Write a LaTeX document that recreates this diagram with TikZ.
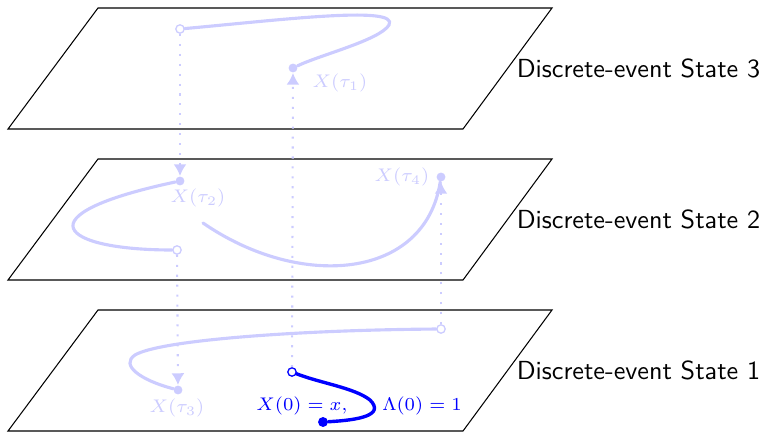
\documentclass[tikz,border=0pt]{standalone}
\usepackage{amsmath,amssymb}
\usepackage{tikz}
\usetikzlibrary{arrows.meta}

\begin{document}
\begin{tikzpicture}[every node/.style={font=\scriptsize}, x=0.01344cm, y=0.01344cm,
	faint/.style={blue!20}, flow/.style={very thick, line cap=round},
	jump/.style={blue!20, thick, dash pattern=on 0.8pt off 3pt, -{Latex[length=4.5pt,width=5pt]}},
	opendot/.style={circle, draw=#1, line width=0.5pt, fill=white, inner sep=0pt, minimum size=3.2pt},
	fulldot/.style={circle, fill=#1, inner sep=0pt, minimum size=3.4pt}]
	\useasboundingbox (0,0) rectangle (768,-432);
	\foreach \k/\y in {3/8,2/159,1/310} {
		\draw (98,-\y) -- (552,-\y) -- node[right, font=\normalsize\sffamily] (s\k) {Discrete-event State \k} (463,-\y-121) -- (8,-\y-121) -- cycle;
	}
	\node[opendot=blue!20] (o3) at (180,-29) {};
	\node[fulldot=blue!20] (t1) at (293,-68) {};
	\node[fulldot=blue!20] (t2) at (180,-181) {};
	\node[opendot=blue!20] (o2) at (177,-250) {};
	\node[fulldot=blue!20] (t4) at (441,-177) {};
	\coordinate (e2) at (203,-223);
	\node[fulldot=blue!20] (t3) at (178,-390) {};
	\node[opendot=blue!20] (o1) at (441,-329) {};
	\node[opendot=blue] (o0) at (292,-372) {};
	\node[fulldot=blue, minimum size=3.8pt] (x0) at (323,-422) {};
	\draw[flow, blue, line width=1.3pt] (x0) .. controls (360,-420) and (385,-415) .. (370,-400) .. controls (355,-388) and (320,-383) .. (o0);
	\draw[jump] (o0) -- (t1);
	\draw[flow, faint] (t1) .. controls (320,-55) and (380,-40) .. (389,-25) .. controls (400,-5) and (280,-20) .. (o3);
	\draw[jump] (o3) -- (t2);
	\draw[flow, faint] (t2) .. controls (20,-215) and (60,-250) .. (o2);
	\draw[jump] (o2) -- (t3);
	\draw[flow, faint] (t3) .. controls (140,-380) and (120,-365) .. (135,-355) .. controls (160,-340) and (300,-330) .. (o1);
	\draw[jump] (o1) -- (t4);
	\draw[flow, faint] (t4) .. controls (425,-280) and (300,-290) .. (e2);
	\node[faint] (l1) at (340,-83) {$X(\tau_1)$};
	\node[faint] (l2) at (198,-198) {$X(\tau_2)$};
	\node[faint] (l3) at (177,-408) {$X(\tau_3)$};
	\node[faint] (l4) at (402,-177) {$X(\tau_4)$};
	\node[blue] (l0) at (302,-406) {$X(0)=x,$};
	\node[blue] (m0) at (422,-406) {$\Lambda(0)=1$};
\end{tikzpicture}
\end{document}
